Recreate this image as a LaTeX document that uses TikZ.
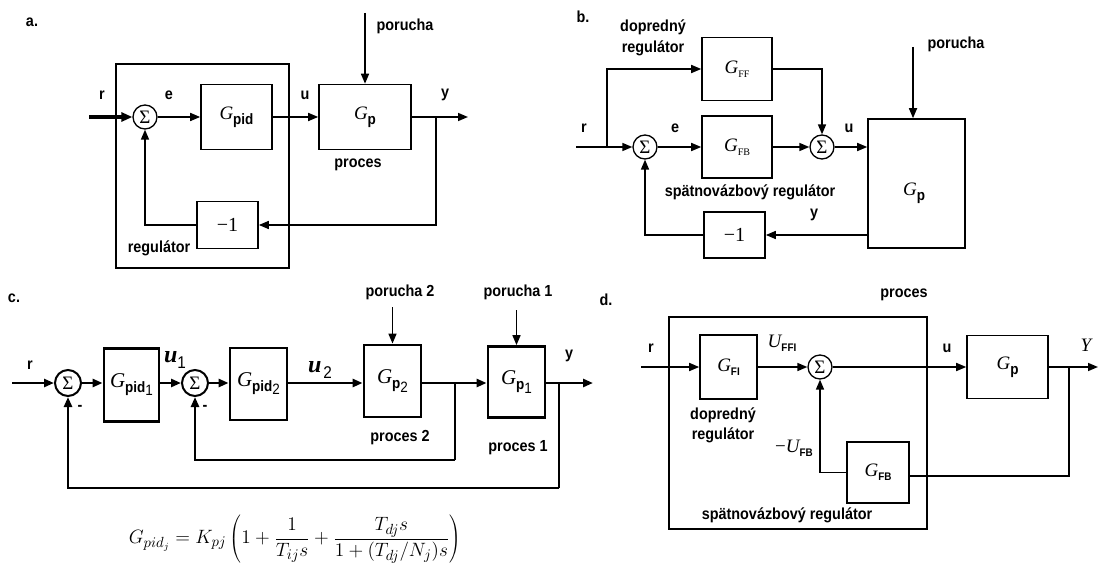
\documentclass[tikz,border=0pt]{standalone}
\usepackage{fontspec}
\usepackage{graphicx}
\usetikzlibrary{arrows.meta,calc}
\newfontfamily\lab[FakeStretch=0.9]{Liberation Sans}
\newfontfamily\ser{Liberation Serif}
\newcommand{\Gi}{{\ser\itshape G}}
\newcommand{\sbs}[1]{\raisebox{-5pt}{\lab\bfseries\fontsize{15}{15}\selectfont #1}}
\newcommand{\sbr}[1]{\raisebox{-4pt}{\ser\fontsize{10}{10}\selectfont #1}}
\newcommand{\sbn}[1]{\raisebox{-4pt}{\lab\bfseries\fontsize{11}{11}\selectfont #1}}
\newcommand{\sumsym}{{\ser\fontsize{19}{19}\selectfont Σ}}
\newcommand{\minone}{{\ser\fontsize{20}{20}\selectfont −1}}
\begin{document}
\begin{tikzpicture}[x=1pt,y=-1pt,
  lbl/.style={font=\lab\bfseries\fontsize{16}{18}\selectfont, inner sep=0pt},
  box/.style={draw, line width=1.6pt, inner sep=0pt, font=\fontsize{19}{20}\selectfont},
  tbox/.style={draw, line width=2.8pt, inner sep=0pt, font=\fontsize{21}{22}\selectfont},
  sumn/.style={draw, circle, line width=1.3pt, minimum size=24pt, inner sep=0pt},
  tsum/.style={sumn, line width=2pt, minimum size=26pt},
  frame/.style={draw, line width=1.3pt},
  ln/.style={line width=1.6pt},
  tln/.style={line width=2.8pt},
  arr/.style={-{Triangle[length=10pt,width=8pt]}},
  gt/.style={font=\fontsize{19}{20}\selectfont, inner sep=0pt},
]
\useasboundingbox (0,0) rectangle (1099,564);

% ---------------- a ----------------
\node[lbl] (aTag) at (32,22) {a.};
\node[frame, minimum width=173pt, minimum height=204pt] (aReg) at (202.5,166) {};
\node[sumn] (aS) at (145,117) {\sumsym};
\node[box, minimum width=71pt, minimum height=65pt] (aPid) at (236.5,117) {\Gi\sbs{pid}};
\node[box, minimum width=92pt, minimum height=65pt] (aGp) at (365,117) {\Gi\sbs{p}};
\node[box, minimum width=61pt, minimum height=47pt] (aM) at (227.5,225) {\minone};
\coordinate (aR) at (89,117);
\coordinate (aD) at (365,13);
\coordinate (aY) at (468,117);
\coordinate (aB) at (436,117);
\draw[line width=3.5pt, -{Triangle[length=11pt,width=9pt]}] (aR) -- (aS);
\draw[ln, arr] (aS) -- (aPid);
\draw[ln, arr] (aPid) -- (aGp);
\draw[ln, arr] (aD) -- (aGp);
\draw[ln, arr] (aGp) -- (aY);
\draw[ln, arr] (aB) |- (aM);
\draw[ln, arr] (aM) -| (aS);
\node[lbl] (aLr) at (102,95) {r};
\node[lbl] (aLe) at (169,95) {e};
\node[lbl] (aLu) at (305,95) {u};
\node[lbl] (aLy) at (445,95) {y};
\node[lbl] (aLd) at (405,26) {porucha};
\node[lbl] (aLp) at (358,165) {proces};
\node[lbl] (aLreg) at (159,248) {regulátor};

% ---------------- b ----------------
\node[lbl] (bTag) at (583,17) {b.};
\node[lbl] (bLff1) at (653,27) {dopredný};
\node[lbl] (bLff2) at (653,48) {regulátor};
\node[box, minimum width=70pt, minimum height=63pt] (bFF) at (737,69) {\Gi\sbr{FF}};
\node[box, minimum width=70pt, minimum height=62pt] (bFB) at (737,147) {\Gi\sbr{FB}};
\node[sumn] (bS1) at (645,147) {\sumsym};
\node[sumn] (bS2) at (822,147) {\sumsym};
\node[box, minimum width=97pt, minimum height=129pt] (bGp) at (916.5,183.5) {};
\node[gt] (bGpT) at (914,193) {\Gi\sbs{p}};
\node[box, minimum width=61pt, minimum height=46pt] (bM) at (734.5,235) {\minone};
\coordinate (bR) at (576,147);
\coordinate (bBr) at (607,147);
\coordinate (bD) at (913,47);
\coordinate (bFbk) at (868,235);
\draw[ln, arr] (bR) -- (bS1);
\draw[ln, arr] (bBr) |- (bFF);
\draw[ln, arr] (bS1) -- (bFB);
\draw[ln, arr] (bFB) -- (bS2);
\draw[ln, arr] (bFF) -| (bS2);
\draw[ln, arr] (bS2) -- (bS2 -| bGp.west);
\draw[ln, arr] (bD) -- (bD |- bGp.north);
\draw[ln, arr] (bFbk) -- (bM);
\draw[ln, arr] (bM) -| (bS1);
\node[lbl] (bLr) at (584,128) {r};
\node[lbl] (bLe) at (675,128) {e};
\node[lbl] (bLu) at (849,128) {u};
\node[lbl] (bLd) at (956,44) {porucha};
\node[lbl] (bLfb) at (750,192) {spätnovázbový regulátor};
\node[lbl] (bLy) at (814,215) {y};

% ---------------- c ----------------
\node[lbl] (cTag) at (14,298) {c.};
\node[tsum] (cS1) at (68,383) {\sumsym};
\node[tbox, minimum width=55pt, minimum height=73pt] (cP1) at (131.5,385) {\Gi\sbs{pid}\raisebox{-8pt}{\lab\fontsize{15}{15}\selectfont 1}};
\node[tsum] (cS2) at (195,383) {\sumsym};
\node[tbox, minimum width=57pt, minimum height=72pt] (cP2) at (258.5,384) {\Gi\sbs{pid}\raisebox{-8pt}{\lab\fontsize{15}{15}\selectfont 2}};
\node[tbox, minimum width=57pt, minimum height=72pt] (cG2) at (392.5,381) {\Gi\sbs{p}\raisebox{-9pt}{\lab\fontsize{15}{15}\selectfont 2}};
\node[tbox, minimum width=57pt, minimum height=71pt] (cG1) at (516.5,382) {\Gi\sbs{p}\raisebox{-9pt}{\lab\fontsize{15}{15}\selectfont 1}};
\coordinate (cR) at (12,383);
\coordinate (cY) at (593,383);
\coordinate (cB1) at (455,383);
\coordinate (cB2) at (559,383);
\coordinate (cD2) at (392.5,307);
\coordinate (cD1) at (516.5,310);
\coordinate (cF1) at (455,460);
\coordinate (cF2) at (559,488);
\draw[tln, arr] (cR) -- (cS1);
\draw[tln, arr] (cS1) -- (cS1 -| cP1.west);
\draw[tln, arr] (cS1 -| cP1.east) -- (cS2);
\draw[tln, arr] (cS2) -- (cS2 -| cP2.west);
\draw[tln, arr] (cS2 -| cP2.east) -- (cS2 -| cG2.west);
\draw[tln, arr] (cS2 -| cG2.east) -- (cS2 -| cG1.west);
\draw[tln, arr] (cS2 -| cG1.east) -- (cY);
\draw[ln, arr] (cD2) -- (cG2);
\draw[ln, arr] (cD1) -- (cG1);
\draw[tln] (cB1) -- (cF1);
\draw[tln, arr] (cF1) -| (cS2);
\draw[tln] (cB2) -- (cF2);
\draw[tln, arr] (cF2) -| (cS1);
\node[lbl] (cLr) at (30,365) {r};
\node[inner sep=0pt] (cLu1) at (175,360) {{\ser\bfseries\itshape\fontsize{24}{24}\selectfont u}\raisebox{-6pt}{\lab\fontsize{17}{17}\selectfont 1}};
\node[inner sep=0pt] (cLu2) at (320,370) {{\ser\bfseries\itshape\fontsize{24}{24}\selectfont u}\,\raisebox{-6pt}{\lab\fontsize{17}{17}\selectfont 2}};
\node[lbl] (cLd2) at (400,292) {porucha 2};
\node[lbl] (cLd1) at (518,292) {porucha 1};
\node[lbl] (cLp2) at (400,438) {proces 2};
\node[lbl] (cLp1) at (518,448) {proces 1};
\node[lbl] (cLy) at (569,356) {y};
\node[lbl] (cM1) at (80,408) {-};
\node[lbl] (cM2) at (205,408) {-};
\node[inner sep=0pt, font=\fontsize{15}{18}\selectfont] (cFormula) at (295,539)
  {\scalebox{1.34}{$\displaystyle G_{pid_j} = K_{pj}\left(1+\frac{1}{T_{ij}s}+\frac{T_{dj}s}{1+(T_{dj}/N_j)s}\right)$}};

% ---------------- d ----------------
\node[lbl] (dTag) at (606,300) {d.};
\node[lbl] (dLp) at (904,295) {proces};
\node[frame, minimum width=258pt, minimum height=212pt] (dReg) at (798,423) {};
\node[box, minimum width=57pt, minimum height=64pt] (dFI) at (728.5,367) {\Gi\sbn{FI}};
\node[sumn] (dS) at (820,367) {\sumsym};
\node[box, minimum width=81pt, minimum height=63pt] (dGp) at (1007.5,367) {\Gi\sbs{p}};
\node[box, minimum width=62pt, minimum height=61pt] (dFB) at (878,472.5) {\Gi\sbn{FB}};
\coordinate (dR) at (641,367);
\coordinate (dY) at (1098,367);
\coordinate (dB) at (1069,367);
\coordinate (dF) at (1069,476);
\draw[ln, arr] (dR) -- (dFI);
\draw[ln, arr] (dFI) -- (dS);
\draw[ln, arr] (dS) -- (dGp);
\draw[ln, arr] (dGp) -- (dY);
\draw[ln] (dB) -- (dF) -- (dF -| dFB.east);
\draw[ln, arr] (dFB) -| (dS);
\node[lbl] (dLr) at (651,348) {r};
\node[inner sep=0pt, font=\fontsize{19}{20}\selectfont] (dLuffi) at (782,343) {{\ser\itshape U}\sbn{FFI}};
\node[lbl] (dLu) at (947,348) {u};
\node[inner sep=0pt, font=\ser\itshape\fontsize{19}{20}\selectfont] (dLy) at (1086,345) {Y};
\node[inner sep=0pt, font=\fontsize{19}{20}\selectfont] (dLufb) at (794,448) {{\ser −\itshape U}\sbn{FB}};
\node[lbl] (dLff1) at (723,415) {dopredný};
\node[lbl] (dLff2) at (723,435) {regulátor};
\node[lbl] (dLfb) at (787,515) {spätnovázbový regulátor};
\end{tikzpicture}
\end{document}
